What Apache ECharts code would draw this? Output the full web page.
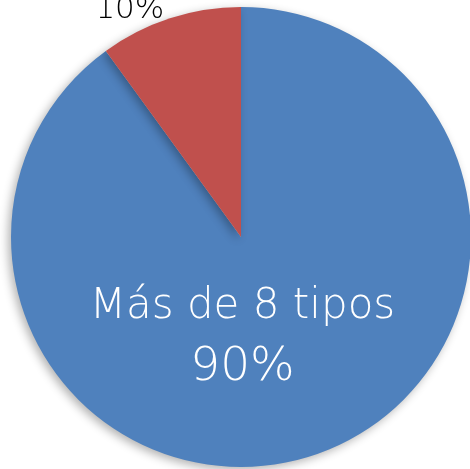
<!DOCTYPE html>
<html>
<head>
<meta charset="utf-8">
<style>
  html, body { margin: 0; padding: 0; background: #fff; }
  #chart { width: 470px; height: 469px; }
</style>
<script src="https://cdn.jsdelivr.net/npm/echarts@6/dist/echarts.min.js"></script>
</head>
<body>
<div id="chart"></div>
<script>
// datos
const categories = ['Más de 8 tipos', 'Menos de 8 tipos'];
const values = [90, 10];
const colors = ['#4F81BD', '#C0504D'];

const font = "'Century Gothic', 'URW Gothic', 'DejaVu Sans', sans-serif";

const chart = echarts.init(document.getElementById('chart'));

chart.setOption({
  backgroundColor: '#fff',
  animation: false,
  series: [
    {
      type: 'pie',
      center: [241, 237],
      radius: 230,
      startAngle: 90,
      clockwise: true,
      data: [
        {
          name: categories[0],
          value: values[0],
          itemStyle: { color: colors[0] },
          label: {
            show: true,
            position: 'inside',
            formatter: '{a|{b}}\n{c|{d}%}',
            rich: {
              a: { fontFamily: font, fontWeight: 200, fontSize: 42, color: '#fff', lineHeight: 54 },
              c: { fontFamily: font, fontWeight: 200, fontSize: 47, color: '#fff', lineHeight: 68 }
            }
          }
        },
        {
          name: categories[1],
          value: values[1],
          itemStyle: { color: colors[1] },
          label: {
            show: true,
            position: 'outside',
            formatter: '{d}%',
            fontFamily: font,
            fontWeight: 200,
            fontSize: 31,
            color: '#000'
          },
          labelLine: { show: false }
        }
      ],
      // ajuste de las etiquetas
      labelLayout: function (p) {
        if (p.dataIndex === 0) return { dx: -35, dy: -8 };
        return { dx: 34, dy: 6 };
      },
      itemStyle: {
        shadowBlur: 10,
        shadowColor: 'rgba(0,0,0,0.3)',
        shadowOffsetX: -3,
        shadowOffsetY: 3
      },
      emphasis: { disabled: true }
    }
  ]
});
</script>
</body>
</html>
